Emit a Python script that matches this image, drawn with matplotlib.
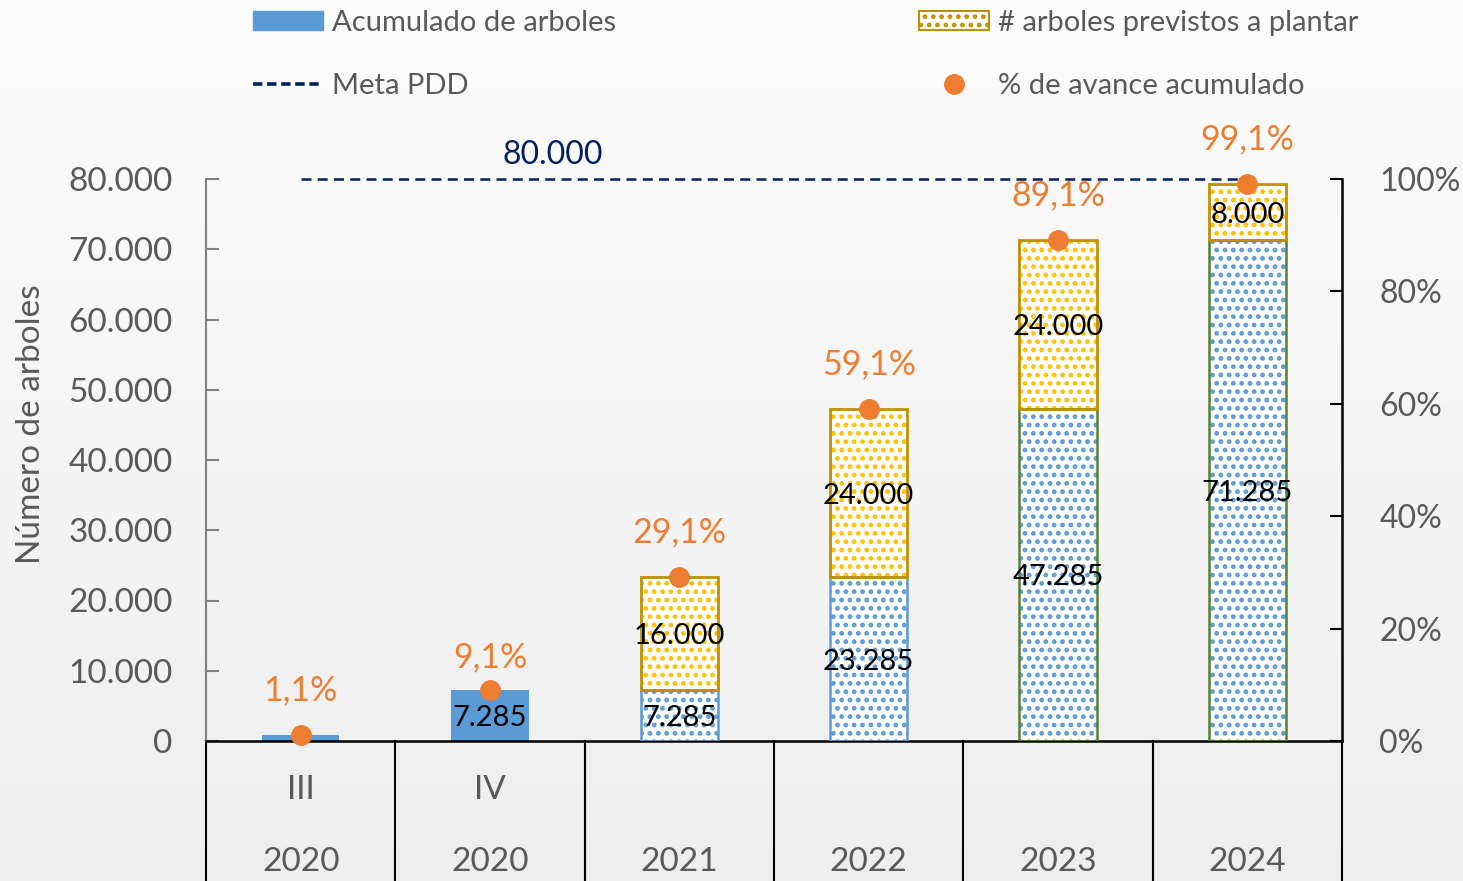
import numpy as np
import matplotlib
matplotlib.use("Agg")
import matplotlib.pyplot as plt
from matplotlib.patches import Rectangle
from matplotlib.lines import Line2D
import matplotlib.ticker as mticker

plt.rcParams['font.family'] = ['Lato', 'DejaVu Sans']
plt.rcParams['hatch.linewidth'] = 2.2

# data
periodo = ["III", "IV", "", "", "", ""]
anios = ["2020", "2020", "2021", "2022", "2023", "2024"]
acumulado = [880, 7285, 7285, 23285, 47285, 71285]
previstos = [0, 0, 16000, 24000, 24000, 8000]
avance = [0.011, 0.091, 0.291, 0.591, 0.891, 0.991]
meta = 80000

gray = "#595959"
blue = "#5B9BD5"
gold = "#FFC000"
gold_edge = "#BF9000"
orange = "#ED7D31"
navy = "#002060"

fig = plt.figure(figsize=(14.63, 8.81), dpi=100)

# soft grey background
bg = fig.add_axes([0, 0, 1, 1], zorder=-10)
grad = np.linspace(0.99, 0.935, 256).reshape(-1, 1)
bg.imshow(np.dstack([grad, grad, grad]), aspect='auto', extent=[0, 1, 0, 1])
bg.axis('off')

ax = fig.add_axes([206/1463, 140/881, 1136/1463, 562/881])
ax.patch.set_alpha(0)
x = np.arange(len(anios))
w = 0.41

# solid bars for 2020 quarters, dotted for projected years
solid = [True, True, False, False, False, False]
blue_edge = [blue, blue, blue, blue, "#548235", "#548235"]
for i in x:
    if solid[i]:
        ax.bar(i, acumulado[i], w, color=blue, zorder=2)
    else:
        ax.bar(i, acumulado[i], w, facecolor="white", edgecolor=blue,
               hatch="..", linewidth=0, zorder=2)
        ax.bar(i, acumulado[i], w, facecolor="none", edgecolor=blue_edge[i],
               linewidth=1.8, zorder=3)
    if previstos[i] > 0:
        ax.bar(i, previstos[i], w, bottom=acumulado[i], facecolor="white",
               edgecolor=gold, hatch="..", linewidth=0, zorder=2)
        ax.bar(i, previstos[i], w, bottom=acumulado[i], facecolor="none",
               edgecolor=gold_edge, linewidth=2, zorder=3)

# value labels
for i in x:
    if i > 0:
        ax.text(i, acumulado[i] / 2, f"{acumulado[i]:,}".replace(",", "."),
                ha="center", va="center_baseline", fontsize=21, color="black",
                zorder=5)
    if previstos[i] > 0:
        ax.text(i, acumulado[i] + previstos[i] / 2,
                f"{previstos[i]:,}".replace(",", "."),
                ha="center", va="center_baseline", fontsize=21, color="black",
                zorder=5)

# meta line
ax.plot([x[0], x[-1]], [meta, meta], color=navy, lw=1.8, ls=(0, (4, 2.5)),
        zorder=4, clip_on=False)
ax.text(1.33, meta + 1300, f"{meta:,}".replace(",", "."), color=navy,
        fontsize=23, ha="center", va="bottom")

ax.set_xlim(-0.5, len(anios) - 0.5)
ax.set_ylim(0, 80000)
ax.set_yticks(np.arange(0, 80001, 10000))
ax.yaxis.set_major_formatter(mticker.FuncFormatter(
    lambda v, p: f"{int(v):,}".replace(",", ".")))
ax.tick_params(axis='y', direction='in', length=9, width=1.5, color="#808080",
               labelsize=24, labelcolor=gray, pad=24)
ax.set_xticks([])
ax.spines['left'].set_color("#808080")
ax.spines['left'].set_linewidth(1.5)
ax.spines['bottom'].set_color("black")
ax.spines['bottom'].set_linewidth(1.8)
ax.spines['top'].set_visible(False)
ax.spines['right'].set_visible(False)
ax.set_ylabel("Número de arboles", fontsize=24, color=gray)
ax.yaxis.set_label_coords(-0.141, 0.563)

# category table below the axis
for b in np.arange(-0.5, len(anios), 1):
    ax.plot([b, b], [0, -0.26], color="black", lw=1.5,
            transform=ax.get_xaxis_transform(), clip_on=False)
for i in x:
    if periodo[i]:
        ax.text(i, -0.088, periodo[i], transform=ax.get_xaxis_transform(),
                ha="center", va="center", fontsize=24, color=gray)
    ax.text(i, -0.215, anios[i], transform=ax.get_xaxis_transform(),
            ha="center", va="center", fontsize=24, color=gray)

# secondary axis for the percentages
ax2 = ax.twinx()
ax2.set_ylim(0, 1)
ax2.set_yticks(np.arange(0, 1.01, 0.2))
ax2.yaxis.set_major_formatter(mticker.FuncFormatter(lambda v, p: f"{v:.0%}"))
ax2.tick_params(axis='y', direction='in', length=9, width=1.5, color="black",
                labelsize=23, labelcolor=gray, pad=27)
for s in ['left', 'top', 'bottom']:
    ax2.spines[s].set_visible(False)
ax2.spines['right'].set_color("black")
ax2.spines['right'].set_linewidth(1.8)
ax2.plot(x, avance, 'o', color=orange, ms=14, ls='none', zorder=6, clip_on=False)
lbl_off = [45, 33, 45, 45, 45, 45]
for i in x:
    ax2.annotate(f"{avance[i]*100:.1f}%".replace(".", ","), (i, avance[i]),
                 xytext=(0, lbl_off[i] * 0.72), textcoords="offset points",
                 ha="center", va="center", fontsize=24.5, color=orange,
                 annotation_clip=False)

# legend
handles = [
    Rectangle((0, 0), 1, 1, facecolor=blue, edgecolor=blue),
    Line2D([0], [0], color=navy, lw=2.6, ls=(0, (2.6, 1.3))),
    Rectangle((0, 0), 1, 1, facecolor="white", edgecolor=gold_edge, hatch="..",
              linewidth=1.5),
    Line2D([0], [0], marker='o', color=orange, ms=14, ls='none'),
]
labels = ["Acumulado de arboles", "Meta PDD",
          "# arboles previstos a plantar", "% de avance acumulado"]
leg = fig.legend(handles, labels, ncol=2, loc="upper left",
                 bbox_to_anchor=(227/1463, 1.019), frameon=False, fontsize=21,
                 handlelength=2.4, handleheight=0.65, handletextpad=0.3,
                 labelspacing=1.3, columnspacing=10.4, labelcolor=gray)

fig.savefig("out.png", dpi=100)
